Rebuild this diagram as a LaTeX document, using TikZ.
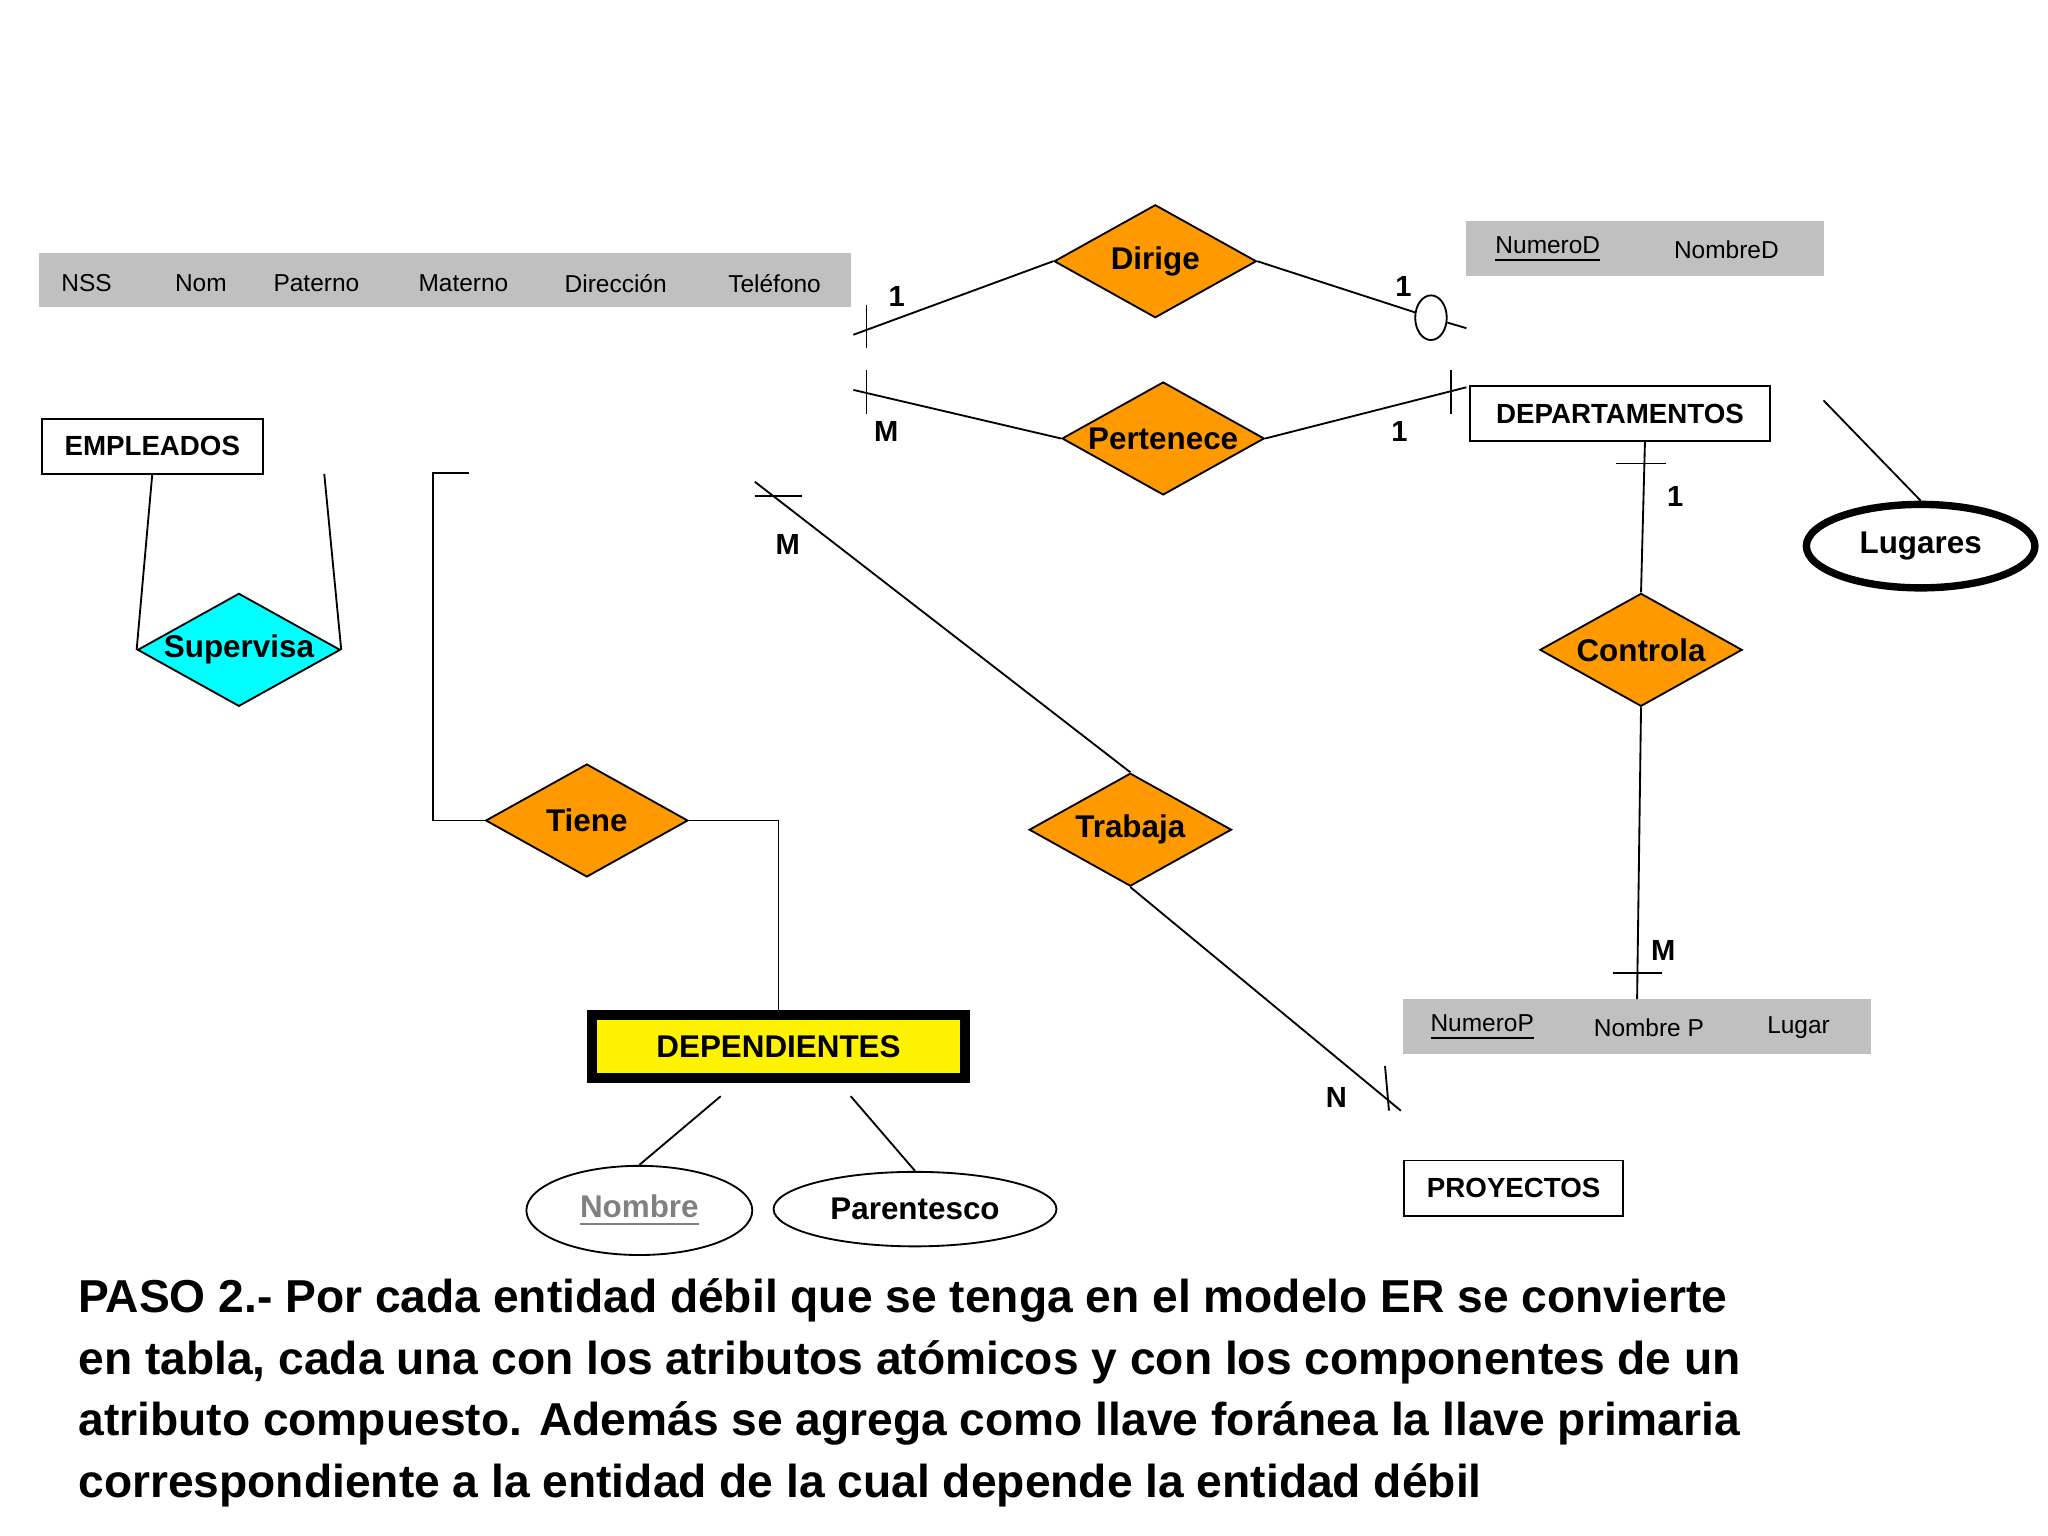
\documentclass[tikz,border=0pt]{standalone}
\usepackage{fontspec}
\setmainfont{Liberation Sans}
\usetikzlibrary{shapes.geometric}
\definecolor{orng}{RGB}{255,153,0}
\definecolor{cyn}{RGB}{0,255,255}
\definecolor{gbar}{RGB}{192,192,192}
\tikzset{
 rel/.style={diamond,draw,fill=orng,minimum width=1.54cm,minimum height=0.86cm,aspect=1.8,inner sep=0pt,font=\fontsize{6.8}{8}\selectfont\bfseries},
 ent/.style={draw,thin,fill=white,font=\fontsize{6}{7}\selectfont\bfseries,inner sep=0pt,minimum height=0.42cm},
 att/.style={font=\fontsize{5.3}{6}\selectfont},
 lbl/.style={font=\fontsize{6.3}{7}\selectfont\bfseries},
 ln/.style={draw,thin},
}
\begin{document}
\begin{tikzpicture}[x=0.01cm,y=-0.01cm]
\useasboundingbox (0,0) rectangle (1560,1170);
\fill[white] (0,0) rectangle (1560,1170);
% grey bars
\fill[gbar] (30,193) rectangle (648,234);
\foreach \t/\x in {NSS/66,Nom/153,Paterno/241,Materno/353,Dirección/469,Teléfono/590}
  \node[att] at (\x,216) {\t};
\fill[gbar] (1117,168) rectangle (1389,210);
\node[att] (nd) at (1179,190) {\underline{NumeroD}};
\node[att] (nmd) at (1315,190) {NombreD};
\fill[gbar] (1069,761) rectangle (1425,803);
\node[att] (np) at (1129,783) {\underline{NumeroP}};
\node[att] (nmp) at (1256,783) {Nombre P};
\node[att] (lg) at (1370,783) {Lugar};
% entities
\node[ent,minimum width=1.68cm] (emp) at (116,340) {EMPLEADOS};
\node[ent,minimum width=2.28cm] (dep) at (1234,315) {DEPARTAMENTOS};
\node[ent,minimum width=1.67cm] (proy) at (1153,905) {PROYECTOS};
\node[draw,line width=2.2pt,fill=yellow,minimum width=2.84cm,minimum height=0.48cm,inner sep=0pt,font=\fontsize{6.8}{8}\selectfont\bfseries] (depe) at (593,797) {DEPENDIENTES};
% relationships
\node[rel,fill=cyn] (sup) at (182,495) {Supervisa};
\node[rel] (dir) at (880,199) {Dirige};
\node[rel] (per) at (886,334) {Pertenece};
\node[rel] (con) at (1250,495) {Controla};
\node[rel] (tra) at (861,632) {Trabaja};
\node[rel] (tie) at (447,625) {Tiene};
% attributes ellipses
\node[ellipse,draw,line width=1.6pt,minimum width=1.74cm,minimum height=0.52cm,font=\fontsize{6.8}{8}\selectfont\bfseries] (lug) at (1463,416) {Lugares};
\node[ellipse,draw,thin,minimum width=1.72cm,minimum height=0.5cm,font=\fontsize{6.8}{8}\selectfont\bfseries,text=gray] (nom) at (487,922) {\underline{Nombre}};
\node[ellipse,draw,thin,minimum width=1.72cm,minimum height=0.5cm,font=\fontsize{6.8}{8}\selectfont\bfseries] (par) at (697,921) {Parentesco};
% coordinates
\coordinate (e1) at (116,361); \coordinate (e2) at (247,361);
\coordinate (dl) at (650,255); \coordinate (pl) at (650,297);
\coordinate (dr) at (1078,238); \coordinate (dr2) at (1117,250);
\coordinate (pr) at (1117,295);
\coordinate (lu) at (1389,305);
\coordinate (tm) at (575,367); \coordinate (tn) at (1067,846);
\coordinate (ta) at (357,360); \coordinate (tb) at (330,360);
\coordinate (n1) at (549,835); \coordinate (p1) at (648,835);
\coordinate (ct) at (1253,336); \coordinate (cb) at (1247,761);
% connectors
\draw[ln] (e1) -- (sup.west);
\draw[ln] (e2) -- (sup.east);
\draw[ln] (dir.west) -- (dl);
\draw[ln] (660,232) -- (660,265);
\node[lbl] at (683,226) {1};
\draw[ln] (dir.east) -- (dr);
\node[ellipse,draw,thin,minimum width=0.24cm,minimum height=0.34cm,inner sep=0pt] (circ) at (1090,242) {};
\draw[ln] (circ) -- (dr2);
\node[lbl] at (1069,218) {1};
\draw[ln] (per.west) -- (pl);
\draw[ln] (660,282) -- (660,315);
\node[lbl] at (675,329) {M};
\draw[ln] (per.east) -- (pr);
\draw[ln] (1105,282) -- (1105,315);
\node[lbl] at (1066,329) {1};
\draw[ln] (lu) -- (lug.north);
\draw[ln] (ct) -- (con.north);
\draw[ln] (1231,353) -- (1269,353);
\node[lbl] at (1276,378) {1};
\draw[ln] (con.south) -- (cb);
\draw[ln] (1229,741) -- (1266,741);
\node[lbl] at (1267,724) {M};
\draw[ln] (tra.north) -- (tm);
\draw[ln] (575,378) -- (611,378);
\node[lbl] at (600,415) {M};
\draw[ln] (tra.south) -- (tn);
\draw[ln] (1055,812) -- (1058,846);
\node[lbl] at (1018,836) {N};
\draw[ln] (tie.west) -- (330,625) -- (tb) -- (ta);
\draw[ln] (tie.east) -- (593,625) -- (depe.north);
\draw[ln] (n1) -- (nom.north);
\draw[ln] (p1) -- (par.north);
% paragraph
\node[anchor=north west,align=left,inner sep=0pt,font=\fontsize{10}{13.4}\selectfont\bfseries] (txt) at (59,973) {PASO 2.- Por cada entidad débil que se tenga en el modelo ER se convierte\\en tabla, cada una con los atributos atómicos y con los componentes de un\\atributo compuesto. Además se agrega como llave foránea la llave primaria\\correspondiente a la entidad de la cual depende la entidad débil};
\end{tikzpicture}
\end{document}
